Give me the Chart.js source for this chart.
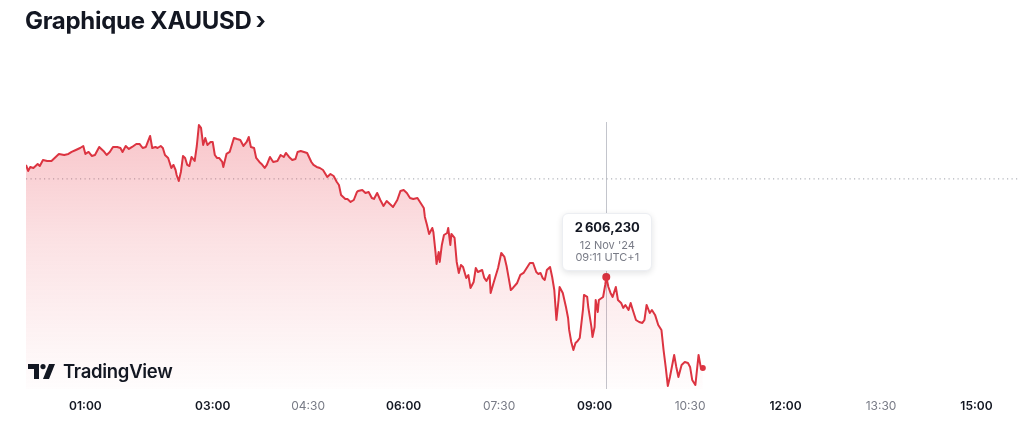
<!DOCTYPE html>
<html lang="fr">
<head>
<meta charset="utf-8">
<title>Graphique XAUUSD</title>
<script src="https://cdn.jsdelivr.net/npm/chart.js@4.4.1/dist/chart.umd.min.js"></script>
<style>
  html, body { margin: 0; padding: 0; background: #fff; }
  body { width: 1024px; height: 440px; overflow: hidden; font-family: Inter, "Noto Sans", sans-serif; }
  #wrap { position: relative; width: 1024px; height: 440px; }
  #chart { position: absolute; left: 0; top: 0; }
  #title {
    position: absolute; left: 25px; top: 6px;
    font-size: 24px; font-weight: 700; color: #131722; letter-spacing: -0.3px;
  }
  #title .chev { font-size: 24px; font-weight: 700; margin-left: 4px; }
  #logo {
    position: absolute; left: 28px; top: 360px;
    display: flex; align-items: center; gap: 8px;
    font-size: 18.5px; font-weight: 600; color: #131722; letter-spacing: -0.3px;
  }
  #tip {
    position: absolute; width: 90px; height: 58px; box-sizing: border-box;
    background: #fff; border: 1px solid #eceef2; border-radius: 6px;
    box-shadow: 0 2px 6px rgba(19, 23, 34, 0.12);
    text-align: center; color: #787b86; font-size: 11px; line-height: 12px;
  }
  #tip .val { color: #131722; font-size: 13px; font-weight: 700; margin-top: 7px; margin-bottom: 6px; letter-spacing: 0.4px; }
</style>
</head>
<body>
<div id="wrap">
  <canvas id="chart" width="1024" height="440"></canvas>
  <div id="title">Graphique XAUUSD<span class="chev">›</span></div>
  <div id="logo">
    <svg width="27" height="15" viewBox="0 0 27 15">
      <path d="M0 0h11v15H6V5H0z" fill="#131722"/>
      <circle cx="15" cy="2.6" r="2.6" fill="#131722"/>
      <path d="M21 0h6l-6 15h-6z" fill="#131722"/>
    </svg>
    <span>TradingView</span>
  </div>
  <div id="tip"><div class="val" id="tipVal"></div><div id="tipDate"></div><div id="tipTime"></div></div>
</div>
<script>
// minutes after midnight (UTC+1), 12 Nov '24
const minutes = [
  4, 6, 8, 11, 15, 17, 20, 24, 28, 32, 35, 40, 44, 47, 51, 55, 58, 60, 63, 66,
  69, 73, 77, 80, 83, 86, 90, 93, 95, 98, 101, 104, 108, 111, 114, 117, 121, 123, 126, 128,
  131, 133, 135, 138, 141, 143, 145, 146, 148, 150, 152, 154, 156, 158, 160, 163, 165, 167, 169, 171,
  173, 175, 178, 180, 182, 184, 186, 189, 190, 193, 196, 200, 203, 206, 209, 212, 214, 216, 219, 221,
  224, 226, 229, 231, 234, 237, 241, 244, 247, 249, 252, 255, 258, 260, 263, 266, 269, 273, 275, 278,
  281, 284, 288, 291, 294, 297, 299, 301, 303, 305, 307, 310, 313, 316, 317, 321, 324, 327, 330, 332,
  335, 338, 341, 344, 347, 350, 354, 357, 360, 363, 366, 369, 373, 376, 379, 380, 382, 384, 387, 388,
  390, 391, 393, 394, 396, 398, 401, 402, 404, 405, 408, 410, 412, 414, 416, 419, 421, 423, 426, 428,
  430, 434, 436, 438, 441, 442, 445, 447, 449, 452, 455, 457, 459, 461, 463, 467, 470, 473, 476, 479,
  482, 485, 487, 489, 491, 493, 495, 498, 500, 502, 504, 506, 507, 510, 513, 515, 516, 518, 520, 522,
  524, 526, 529, 530, 533, 534, 537, 538, 540, 541, 543, 544, 548, 550, 551, 553, 555, 557, 560, 562,
  565, 567, 569, 572, 574, 576, 579, 582, 585, 587, 589, 592, 594, 597, 600, 603, 605, 607, 609, 611,
  615, 617, 619, 622, 625, 628, 630, 632, 635, 638, 640, 642
];
const prices = [
  2620.19, 2619.44, 2619.94, 2619.81, 2620.31, 2620.06, 2620.81, 2620.68, 2620.68, 2621.18,
  2621.56, 2621.43, 2621.56, 2621.81, 2622.05, 2622.30, 2622.55, 2621.56, 2621.81, 2621.31,
  2621.43, 2622.43, 2621.93, 2621.43, 2621.81, 2622.43, 2622.43, 2622.30, 2621.81, 2622.55,
  2622.18, 2622.43, 2622.80, 2622.80, 2622.30, 2622.43, 2623.80, 2622.30, 2622.43, 2622.30,
  2622.55, 2622.30, 2621.43, 2621.06, 2619.81, 2620.19, 2619.56, 2618.94, 2618.19, 2619.31,
  2621.31, 2621.06, 2620.19, 2620.06, 2621.18, 2620.68, 2622.55, 2625.17, 2624.80, 2622.68,
  2623.55, 2622.68, 2623.05, 2623.05, 2621.43, 2621.06, 2621.06, 2620.56, 2619.94, 2621.56,
  2621.81, 2623.55, 2623.42, 2623.30, 2622.55, 2623.05, 2623.67, 2622.43, 2622.30, 2621.06,
  2620.56, 2620.31, 2619.81, 2620.19, 2621.18, 2620.56, 2620.68, 2621.43, 2621.18, 2621.68,
  2621.18, 2620.81, 2620.93, 2621.81, 2621.93, 2621.81, 2621.68, 2620.56, 2620.19, 2619.94,
  2619.81, 2619.56, 2618.69, 2619.06, 2618.81, 2618.07, 2617.69, 2616.45, 2616.20, 2615.95,
  2615.95, 2615.58, 2615.82, 2616.82, 2616.95, 2617.07, 2616.70, 2616.82, 2616.07, 2615.95,
  2616.70, 2615.82, 2615.08, 2615.70, 2615.33, 2614.95, 2615.82, 2616.95, 2617.07, 2616.70,
  2616.07, 2615.95, 2616.07, 2615.45, 2614.83, 2613.71, 2612.71, 2611.59, 2612.34, 2611.84,
  2609.35, 2607.85, 2609.35, 2608.10, 2610.22, 2611.46, 2611.71, 2612.34, 2610.22, 2611.59,
  2611.09, 2608.10, 2606.73, 2607.73, 2607.48, 2606.11, 2606.48, 2604.86, 2605.61, 2607.35,
  2606.85, 2607.10, 2606.11, 2605.73, 2606.48, 2604.24, 2605.61, 2606.48, 2607.35, 2609.22,
  2608.72, 2607.60, 2606.11, 2604.61, 2604.86, 2605.48, 2606.48, 2606.73, 2607.35, 2607.97,
  2607.97, 2606.85, 2606.60, 2606.73, 2606.11, 2605.86, 2607.10, 2607.48, 2606.23, 2604.61,
  2600.87, 2603.36, 2604.98, 2604.24, 2602.49, 2601.12, 2599.63, 2598.13, 2597.13, 2598.01,
  2598.26, 2598.63, 2602.12, 2603.99, 2603.74, 2602.49, 2600.00, 2598.75, 2600.00, 2603.36,
  2601.87, 2603.36, 2603.74, 2605.23, 2606.23, 2604.98, 2604.24, 2603.74, 2604.98, 2603.36,
  2602.99, 2602.37, 2602.74, 2602.12, 2602.99, 2602.12, 2600.87, 2600.62, 2600.50, 2600.87,
  2602.74, 2601.74, 2602.12, 2601.50, 2600.25, 2599.63, 2597.13, 2595.02, 2592.65, 2593.77,
  2596.51, 2595.02, 2593.77, 2595.27, 2595.64, 2595.51, 2595.02, 2593.40, 2592.77, 2596.51,
  2595.02, 2594.89
];
const prevClose = 2618.45;
const tickMinutes = [60, 180, 270, 360, 450, 540, 630, 720, 810, 900];
const tickLabels = ["01:00", "03:00", "04:30", "06:00", "07:30", "09:00", "10:30", "12:00", "13:30", "15:00"];
const majorTicks = ["01:00", "03:00", "06:00", "09:00", "12:00", "15:00"];
const hoverMinute = 551;
const hoverDate = "12 Nov '24";
const hoverTime = "09:11 UTC+1";

const RED = "#dc3441";
const hoverIdx = minutes.indexOf(hoverMinute);
const lastIdx = minutes.length - 1;

const crosshair = {
  id: "crosshair",
  beforeDatasetsDraw(chart) {
    const { ctx, chartArea, scales } = chart;
    const x = Math.round(scales.x.getPixelForValue(hoverMinute)) + 0.5;
    ctx.save();
    ctx.strokeStyle = "#c3c5cc";
    ctx.lineWidth = 1;
    ctx.beginPath();
    ctx.moveTo(x, chartArea.top);
    ctx.lineTo(x, chartArea.bottom);
    ctx.stroke();
    ctx.restore();
  },
  afterDraw(chart) {
    const px = chart.scales.x.getPixelForValue(hoverMinute);
    const py = chart.scales.y.getPixelForValue(prices[hoverIdx]);
    const tip = document.getElementById("tip");
    document.getElementById("tipVal").textContent =
      prices[hoverIdx].toLocaleString("fr-FR", { minimumFractionDigits: 3, maximumFractionDigits: 3 });
    document.getElementById("tipDate").textContent = hoverDate;
    document.getElementById("tipTime").textContent = hoverTime;
    tip.style.left = (px - 45 + 1) + "px";
    tip.style.top = (py - 58 - 6) + "px";
  }
};

new Chart(document.getElementById("chart"), {
  type: "line",
  data: {
    datasets: [
      {
        data: minutes.map((m, i) => ({ x: m, y: prices[i] })),
        borderColor: RED,
        borderWidth: 2,
        borderJoinStyle: "round",
        tension: 0,
        fill: "start",
        backgroundColor: (c) => {
          const area = c.chart.chartArea;
          if (!area) return "rgba(220,52,65,0.2)";
          const g = c.chart.ctx.createLinearGradient(0, area.top, 0, area.bottom);
          g.addColorStop(0, "rgba(232,60,75,0.30)");
          g.addColorStop(0.45, "rgba(232,60,75,0.15)");
          g.addColorStop(1, "rgba(232,60,75,0.01)");
          return g;
        },
        pointRadius: (c) => c.dataIndex === hoverIdx ? 4 : (c.dataIndex === lastIdx ? 3 : 0),
        pointBackgroundColor: RED,
        pointBorderWidth: 0,
        order: 0
      },
      {
        data: [{ x: 4, y: prevClose }, { x: 941, y: prevClose }],
        borderColor: "#9ea1aa",
        borderWidth: 1,
        borderDash: [1.2, 3.3],
        pointRadius: 0,
        fill: false,
        order: 1
      }
    ]
  },
  options: {
    responsive: false,
    animation: false,
    events: [],
    layout: { padding: { left: 26, right: 4, top: 122, bottom: 0 } },
    plugins: { legend: { display: false }, tooltip: { enabled: false } },
    scales: {
      x: {
        type: "linear",
        min: 4,
        max: 941,
        grid: { display: false, drawTicks: false },
        border: { display: false },
        afterBuildTicks: (axis) => { axis.ticks = tickMinutes.map(v => ({ value: v })); },
        afterFit: (axis) => { axis.height = 51; },
        ticks: {
          autoSkip: false,
          maxRotation: 0,
          padding: 10,
          callback: (v) => tickLabels[tickMinutes.indexOf(v)],
          color: (c) => majorTicks.includes(tickLabels[c.index]) ? "#131722" : "#787b86",
          font: (c) => ({
            family: "Inter, 'Noto Sans', sans-serif",
            size: 12,
            weight: majorTicks.includes(tickLabels[c.index]) ? "600" : "400"
          })
        }
      },
      y: {
        display: false,
        min: 2592.27,
        max: 2625.54
      }
    }
  },
  plugins: [crosshair]
});
</script>
</body>
</html>
